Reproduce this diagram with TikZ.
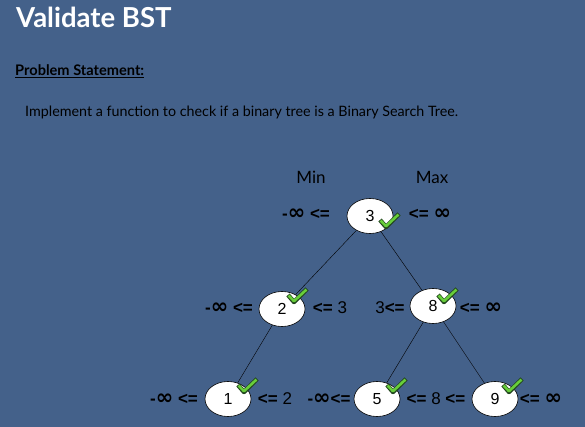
\documentclass[tikz,border=0pt]{standalone}
\usepackage{fontspec}
\setmainfont{Lato}
\newfontfamily\lbl{Liberation Sans}
\newfontfamily\symfont{DejaVu Sans}
\newcommand\infsym{{\symfont\fontsize{21}{17}\selectfont ∞}}
\usetikzlibrary{shapes.geometric,calc}

\definecolor{slate}{RGB}{68,97,138}
\definecolor{okgreen}{RGB}{104,206,58}
\definecolor{okdark}{RGB}{34,70,30}

\tikzset{
  bst/.style={ellipse,draw=black,fill=white,semithick,minimum width=46pt,minimum height=35pt,
    inner sep=0pt,font=\lbl\fontsize{16}{16}\selectfont},
  bound/.style={font=\lbl\fontsize{17}{17}\selectfont,inner sep=0pt,anchor=base},
  okmark/.pic={
    \draw[okdark,line width=4.4pt,line join=round] (-6,-7) -- (0,0) -- (13,-13);
    \draw[okgreen,line width=2.6pt,line join=round] (-5.4,-6.4) -- (0,-0.8) -- (12.4,-12.4);
  }
}

\begin{document}
\begin{tikzpicture}[x=1pt,y=-1pt]
  \fill[slate] (0,0) rectangle (585,427);
  \useasboundingbox (0,0) rectangle (585,427);

  % header
  \node[anchor=base west,inner sep=0pt,white,font=\bfseries\fontsize{27.5}{30}\selectfont] (title) at (16,28) {Validate BST};
  \node[anchor=base west,inner sep=0pt,font=\bfseries\fontsize{14.6}{16}\selectfont] (stmt) at (15,76) {\underline{Problem Statement:}};
  \node[anchor=base west,inner sep=0pt,font=\fontsize{14.3}{16}\selectfont] (task) at (25,117)
    {Implement a function to check if a binary tree is a Binary Search Tree.};

  \node[anchor=base,inner sep=0pt,font=\fontsize{17}{17}\selectfont] (min) at (311,184) {Min};
  \node[anchor=base,inner sep=0pt,font=\fontsize{17}{17}\selectfont] (max) at (432,184) {Max};

  % tree
  \node[bst] (n3) at (370,216) {3};
  \node[bst] (n2) at (282,309) {2};
  \node[bst] (n8) at (433,306) {8};
  \node[bst] (n1) at (228,399) {1};
  \node[bst] (n5) at (377,399) {5};
  \node[bst] (n9) at (495,399) {9};

  \draw (n3) -- (n2);
  \draw (n3) -- (n8);
  \draw (n2) -- (n1);
  \draw (n8) -- (n5);
  \draw (n8) -- (n9);

  % bounds
  \node[bound] (l3) at (306,220) {\textbf{-\infsym{} <=}};
  \node[bound] (r3) at (430,220) {\textbf{<= \infsym}};
  \node[bound] (l2) at (229,313) {\textbf{-\infsym{} <=}};
  \node[bound] (r2) at (330,313) {\textbf{<=} 3};
  \node[bound] (l8) at (390,313) {3\textbf{<=}};
  \node[bound] (r8) at (481,313) {\textbf{<= \infsym}};
  \node[bound] (l1) at (174,404) {\textbf{-\infsym{} <=}};
  \node[bound] (r1) at (275,404) {\textbf{<=} 2};
  \node[bound] (l5) at (329,404) {\textbf{-\infsym<=}};
  \node[bound] (r5) at (436,404) {\textbf{<=} 8 \textbf{<=}};
  \node[bound] (r9) at (541,404) {\textbf{<= \infsym}};

  % checks
  \pic at ($(n3)+(16,11)$) {okmark};
  \pic at ($(n2)+(12,-7)$) {okmark};
  \pic at ($(n8)+(11,-4)$) {okmark};
  \pic at ($(n1)+(16,-7)$) {okmark};
  \pic at ($(n5)+(16,-7)$) {okmark};
  \pic at ($(n9)+(14,-7)$) {okmark};
\end{tikzpicture}
\end{document}
